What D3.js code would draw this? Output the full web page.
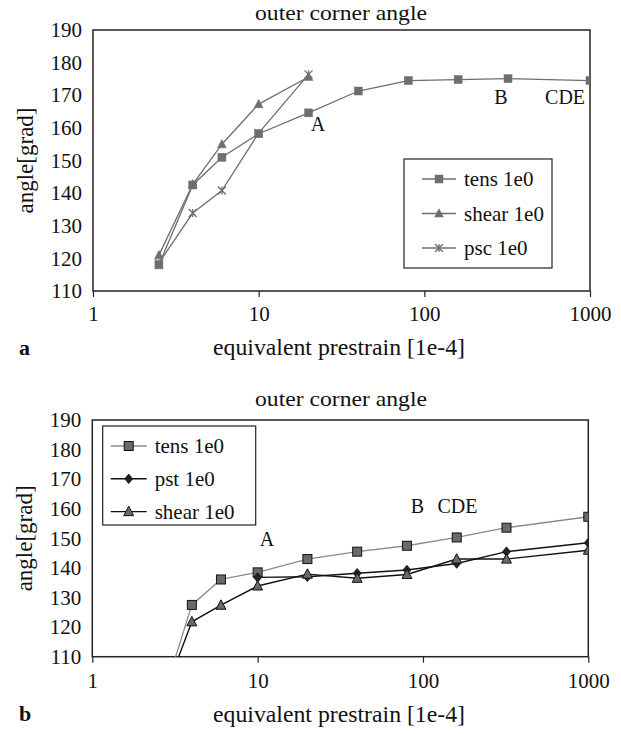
<!DOCTYPE html>
<html><head><meta charset="utf-8">
<script src="https://cdn.jsdelivr.net/npm/d3@7/dist/d3.min.js"></script>
<style>
body{margin:0;background:#fff;}
svg text{font-family:"Liberation Serif","Times New Roman",serif;fill:#111;}
</style></head>
<body><svg id="chart" width="621" height="734"></svg>
<script>
// ---- data ----
const xTickValues = [1, 10, 100, 1000];
const yTickValues = [110, 120, 130, 140, 150, 160, 170, 180, 190];
const chartTitle = "outer corner angle";
const xAxisTitle = "equivalent prestrain [1e-4]";
const yAxisTitle = "angle[grad]";

// panel a
const strainA = [2.5, 4, 6, 10, 20, 40, 80, 160, 320, 1000];
const tensA = [118, 142.5, 151, 158.2, 164.6, 171.3, 174.5, 174.8, 175.1, 174.5];
const strainShortA = [2.5, 4, 6, 10, 20];
const shearA = [121, 142.7, 155, 167.3, 175.6];
const pscA = [118.6, 133.9, 140.8, 158.4, 176.4];
const legendA = ["tens 1e0", "shear 1e0", "psc 1e0"];
const notesA = [["A", 22.8, 161.2], ["B", 290, 169.5], ["CDE", 707, 169.5]];

// panel b
const strainB = [2.5, 4, 6, 10, 20, 40, 80, 160, 320, 1000];
const tensB = [91, 127.5, 136.1, 138.5, 143, 145.5, 147.5, 150.3, 153.6, 157.3];
const shearB = [91.5, 121.8, 127.4, 133.9, 137.9, 136.5, 137.8, 143, 143, 146];
const strainPstB = [10, 20, 40, 80, 160, 320, 1000];
const pstB = [136.8, 137, 138.2, 139.3, 141.5, 145.5, 148.5];
const legendB = ["tens 1e0", "pst 1e0", "shear 1e0"];
const notesB = [["A", 11.4, 149.7], ["B", 92.5, 160.9], ["CDE", 161.5, 160.9]];

const svg = d3.select("#chart");

function marker(g, type, x, y, st) {
  const s = st.size;
  if (type === "square") {
    g.append("rect").attr("x", x - s/2).attr("y", y - s/2).attr("width", s).attr("height", s)
      .attr("fill", st.fill).attr("stroke", st.mstroke).attr("stroke-width", st.msw);
  } else if (type === "triangle") {
    const h = s;
    g.append("path").attr("d", `M${x},${y - h*0.6}L${x + s*0.55},${y + h*0.45}L${x - s*0.55},${y + h*0.45}Z`)
      .attr("fill", st.fill).attr("stroke", st.mstroke).attr("stroke-width", st.msw);
  } else if (type === "diamond") {
    g.append("path").attr("d", `M${x},${y - s*0.6}L${x + s*0.5},${y}L${x},${y + s*0.6}L${x - s*0.5},${y}Z`)
      .attr("fill", st.fill).attr("stroke", st.mstroke).attr("stroke-width", st.msw);
  } else if (type === "star") {
    const r = s/2;
    g.append("path").attr("d", `M${x-r},${y-r}L${x+r},${y+r}M${x-r},${y+r}L${x+r},${y-r}M${x},${y-r}L${x},${y+r}`)
      .attr("fill", "none").attr("stroke", st.fill).attr("stroke-width", 1.3);
  }
}

function drawPanel(cfg) {
  const {left, right, top, bottom, id} = cfg;
  const x = d3.scaleLog().domain([1, 1000]).range([left, right]);
  const y = d3.scaleLinear().domain([110, 190]).range([bottom, top]);
  const g = svg.append("g");

  g.append("defs").append("clipPath").attr("id", "clip" + id)
    .append("rect").attr("x", left).attr("y", top).attr("width", right - left).attr("height", bottom - top);

  // title
  g.append("text").attr("x", 341).attr("y", top - cfg.titleGap)
    .attr("text-anchor", "middle").attr("font-size", 21)
    .attr("textLength", 172).attr("lengthAdjust", "spacingAndGlyphs").text(chartTitle);

  // axes
  const xAxis = d3.axisBottom(x).tickValues(xTickValues).tickFormat(d3.format("d")).tickSize(6).tickPadding(cfg.xPad);
  const xg = g.append("g").attr("transform", `translate(0,${bottom})`).call(xAxis);
  xg.select(".domain").remove();
  xg.selectAll("line").attr("stroke", "#222").attr("stroke-width", 1.2);
  xg.selectAll("text").attr("font-size", 21).attr("font-family", "Liberation Serif").attr("fill", "#111");

  const yAxis = d3.axisLeft(y).tickValues(yTickValues).tickSize(0).tickPadding(11);
  const yg = g.append("g").attr("transform", `translate(${left},0)`).call(yAxis);
  yg.select(".domain").remove();
  yg.selectAll("text").attr("font-size", 21).attr("font-family", "Liberation Serif").attr("fill", "#111");

  // frame
  g.append("rect").attr("x", left).attr("y", top).attr("width", right - left).attr("height", bottom - top)
    .attr("fill", "none").attr("stroke", "#222").attr("stroke-width", 1.5);

  // axis titles
  g.append("text").attr("x", 339).attr("y", bottom + cfg.xTitleGap)
    .attr("text-anchor", "middle").attr("font-size", 23).attr("textLength", 252)
    .attr("lengthAdjust", "spacingAndGlyphs").text(xAxisTitle);
  g.append("text").attr("transform", `translate(${left - 68},${(top + bottom) / 2}) rotate(-90)`)
    .attr("text-anchor", "middle").attr("dominant-baseline", "central").attr("font-size", 23).text(yAxisTitle);

  // panel letter
  g.append("text").attr("x", 19).attr("y", cfg.letterY).attr("font-size", 22).attr("font-weight", "bold").text(cfg.letter);

  // series
  const plot = g.append("g").attr("clip-path", `url(#clip${id})`);
  const line = d3.line().x(d => x(d[0])).y(d => y(d[1]));
  cfg.series.forEach(s => {
    const pts = s.xs.map((v, i) => [v, s.ys[i]]);
    plot.append("path").attr("d", line(pts)).attr("fill", "none")
      .attr("stroke", s.stroke).attr("stroke-width", s.lw);
    pts.forEach(p => marker(plot, s.type, x(p[0]), y(p[1]), s));
  });

  // annotations
  cfg.notes.forEach(n => {
    g.append("text").attr("x", x(n[1])).attr("y", y(n[2])).attr("text-anchor", "middle")
      .attr("dominant-baseline", "central").attr("font-size", 20).text(n[0]);
  });

  // legend
  const L = cfg.legend;
  g.append("rect").attr("x", L.x).attr("y", L.y).attr("width", L.w).attr("height", L.h)
    .attr("fill", "#fff").attr("stroke", "#222").attr("stroke-width", 1.2);
  cfg.series.forEach((s, i) => {
    const ry = L.y + L.first + i * L.step;
    g.append("line").attr("x1", L.x + L.lx1).attr("x2", L.x + L.lx2).attr("y1", ry).attr("y2", ry)
      .attr("stroke", s.stroke).attr("stroke-width", s.lw);
    marker(g, s.type, L.x + (L.lx1 + L.lx2) / 2, ry, s);
    g.append("text").attr("x", L.x + L.tx).attr("y", ry).attr("dominant-baseline", "central")
      .attr("font-size", 21).text(cfg.legendNames[i]);
  });
}

const grayA = "#6e6e6e";
drawPanel({
  id: "a", left: 93, right: 590, top: 30, bottom: 291, titleGap: 10, xPad: 9, xTitleGap: 64, letter: "a", letterY: 355,
  series: [
    {xs: strainA, ys: tensA, type: "square", stroke: grayA, lw: 1.3, fill: grayA, mstroke: grayA, msw: 0.5, size: 8},
    {xs: strainShortA, ys: shearA, type: "triangle", stroke: grayA, lw: 1.3, fill: grayA, mstroke: grayA, msw: 0.5, size: 8},
    {xs: strainShortA, ys: pscA, type: "star", stroke: grayA, lw: 1.3, fill: grayA, mstroke: grayA, msw: 0.5, size: 8}
  ],
  legendNames: legendA,
  legend: {x: 404, y: 159, w: 148, h: 109, first: 20, step: 34.5, lx1: 18, lx2: 52, tx: 60},
  notes: notesA
});

drawPanel({
  id: "b", left: 92.3, right: 588.3, top: 420, bottom: 656.7, titleGap: 14, xPad: 10.5, xTitleGap: 65, letter: "b", letterY: 721,
  series: [
    {xs: strainB, ys: tensB, type: "square", stroke: "#8a8a8a", lw: 1.3, fill: "#6a6a6a", mstroke: "#111", msw: 1, size: 9},
    {xs: strainPstB, ys: pstB, type: "diamond", stroke: "#111", lw: 1.4, fill: "#222", mstroke: "#111", msw: 0.8, size: 8},
    {xs: strainB, ys: shearB, type: "triangle", stroke: "#111", lw: 1.4, fill: "#6a6a6a", mstroke: "#111", msw: 1, size: 9}
  ],
  legendNames: legendB,
  legend: {x: 102.7, y: 426, w: 153, h: 99, first: 20, step: 32.8, lx1: 8, lx2: 44, tx: 52},
  notes: notesB
});
</script></body></html>
